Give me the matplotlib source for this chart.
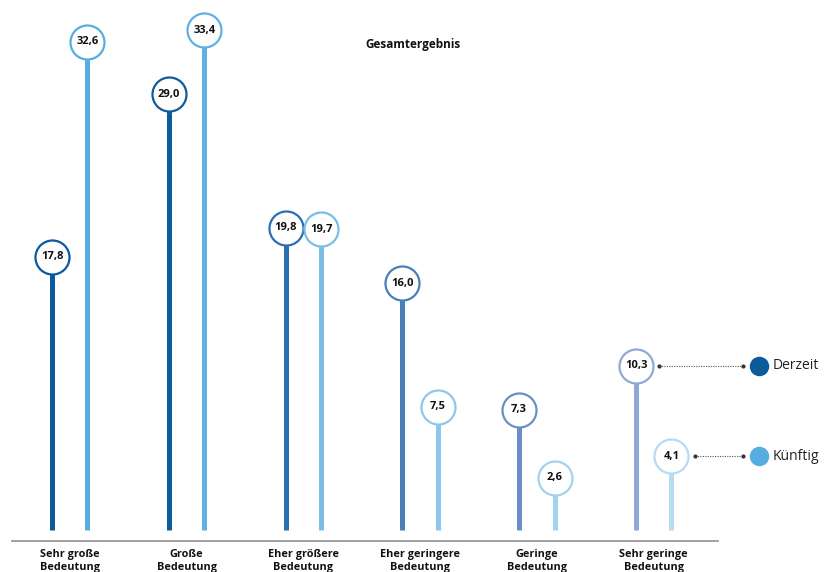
import matplotlib.pyplot as plt

plt.rcParams['font.family'] = ['Open Sans', 'DejaVu Sans']

categories = ['Sehr große\nBedeutung', 'Große\nBedeutung', 'Eher größere\nBedeutung',
              'Eher geringere\nBedeutung', 'Geringe\nBedeutung', 'Sehr geringe\nBedeutung']
derzeit = [17.8, 29.0, 19.8, 16.0, 7.3, 10.3]
kuenftig = [32.6, 33.4, 19.7, 7.5, 2.6, 4.1]

# colours fade from left to right
derzeit_colors = ['#0b5a9c', '#0d5c9c', '#2b6fb0', '#4a7fba', '#6a8fc4', '#8fa9d5']
kuenftig_colors = ['#58ade0', '#60b1e2', '#7abde7', '#8ec7ec', '#a4d1f0', '#b7dbf3']

offset = 0.304

fig = plt.figure(figsize=(8.28, 5.72), dpi=100)
ax = fig.add_axes([0, 0, 1, 1])
ax.set_xlim(-0.445, 6.644)
ax.set_ylim(-3.88, 35.48)
ax.axis('off')


def lollipop(x, val, color):
    ax.vlines(x, -1.0, val, color=color, lw=3.6, zorder=1)
    ax.plot(x, val, 'o', ms=24.5, mfc='white', mec=color, mew=1.6, zorder=2)
    ax.text(x, val, f'{val:.1f}'.replace('.', ','), ha='center', va='center',
            fontsize=8, fontweight='bold', color='#111111', zorder=3)


for i in range(len(categories)):
    lollipop(i, derzeit[i], derzeit_colors[i])
    lollipop(i + offset, kuenftig[i], kuenftig_colors[i])
    ax.text(i + offset / 2, -2.3, categories[i], ha='center', va='top',
            fontsize=7.8, fontweight='bold', color='#111111', linespacing=1.3)

# baseline
ax.plot([-0.342, 5.70], [-1.75, -1.75], color='#9a9a9a', lw=1.3)

ax.text(3.09, 32.4, 'Gesamtergebnis', ha='center', va='center',
        fontsize=8.5, fontweight='bold', color='#111111')

# legend with dotted leaders from the last pair
leg_x = 6.05
last = len(categories) - 1
for xs, val, col, name in [(last, derzeit[last], '#0a5a9c', 'Derzeit'),
                           (last + offset, kuenftig[last], '#58ade0', 'Künftig')]:
    x0 = xs + 0.2
    x1 = leg_x - 0.13
    ax.plot([x0, x1], [val, val], color='#555555', lw=0.8, ls=(0, (1, 1.2)))
    ax.plot([x0, x1], [val, val], 'o', ms=2, color='#333333')
    ax.plot(leg_x, val, 'o', ms=13, color=col)
    ax.text(leg_x + 0.12, val, name, ha='left', va='center', fontsize=10,
            color='#222222')

fig.savefig('out.png', dpi=100)
